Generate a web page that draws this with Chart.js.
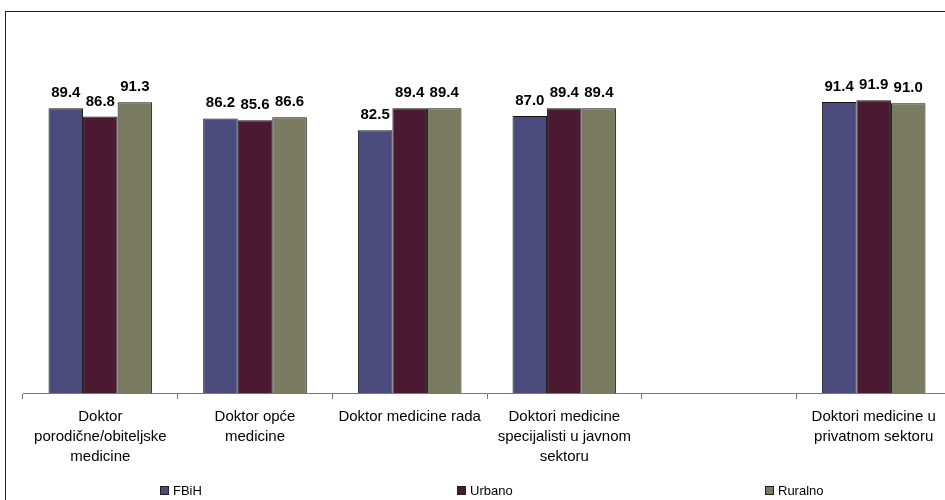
<!DOCTYPE html>
<html>
<head>
<meta charset="utf-8">
<script src="https://cdn.jsdelivr.net/npm/chart.js@4"></script>
<style>
  html, body { margin: 0; padding: 0; width: 945px; height: 500px; overflow: hidden; background: #fff; }
  #frame { position: absolute; left: 5px; top: 11px; width: 980px; height: 520px; border: 1px solid #222; box-sizing: border-box; }
  #wrap { position: absolute; left: 6px; top: 12px; width: 960px; height: 470px; }
  #legend { position: absolute; left: 0; top: 0; width: 945px; height: 500px; pointer-events: none; font-family: "Liberation Sans", Arial, sans-serif; font-size: 13px; color: #000; }
  .li { position: absolute; top: 483px; display: flex; align-items: center; white-space: nowrap; line-height: 15px; }
  .box { width: 7px; height: 7px; border: 1px solid #222; margin-right: 4px; }
</style>
</head>
<body>
<div id="frame"></div>
<div id="wrap"><canvas id="c" width="960" height="470"></canvas></div>
<div id="legend"></div>
<script>
const categories = [
  ["Doktor", "porodične/obiteljske", "medicine"],
  ["Doktor opće", "medicine"],
  "Doktor medicine rada",
  ["Doktori medicine", "specijalisti u javnom", "sektoru"],
  "",
  ["Doktori medicine u", "privatnom sektoru"]
];
const seriesNames = ["FBiH", "Urbano", "Ruralno"];
const fbih    = [89.4, 86.2, 82.5, 87.0, null, 91.4];
const urbano  = [86.8, 85.6, 89.4, 89.4, null, 91.9];
const ruralno = [91.3, 86.6, 89.4, 89.4, null, 91.0];
const seriesColors = ["#4a4a7c", "#4b1931", "#7a7b60"];
const legendLeft = [160, 457, 765];

const FONT = '"Liberation Sans", Arial, sans-serif';

const valueLabels = {
  id: 'valueLabels',
  afterDatasetsDraw(chart) {
    const ctx = chart.ctx;
    ctx.save();
    ctx.font = 'bold 15px ' + FONT;
    ctx.fillStyle = '#000';
    ctx.textAlign = 'center';
    ctx.textBaseline = 'alphabetic';
    chart.data.datasets.forEach((ds, di) => {
      const meta = chart.getDatasetMeta(di);
      meta.data.forEach((el, i) => {
        const v = ds.data[i];
        if (v === null || v === undefined) return;
        ctx.fillText(v.toFixed(1), el.x, el.y - 11);
      });
    });
    ctx.restore();
  }
};

const datasets = [fbih, urbano, ruralno].map((d, i) => ({
  label: seriesNames[i],
  data: d,
  backgroundColor: seriesColors[i],
  borderColor: '#111',
  borderWidth: 1,
  categoryPercentage: 0.67,
  barPercentage: 1.0
}));

new Chart(document.getElementById('c'), {
  type: 'bar',
  data: { labels: categories, datasets },
  options: {
    responsive: false,
    animation: false,
    layout: { padding: { left: 17, right: 15, top: 62.5, bottom: 0 } },
    plugins: { legend: { display: false }, tooltip: { enabled: false } },
    scales: {
      x: {
        afterFit(scale) { scale.height = 89; },
        grid: { drawOnChartArea: false, tickLength: 6, color: '#777', offset: true },
        border: { display: true, color: '#777', width: 1 },
        ticks: { color: '#000', font: { family: FONT, size: 15, lineHeight: 1.33 }, padding: 8, maxRotation: 0, autoSkip: false }
      },
      y: { display: false, min: 0, max: 100 }
    }
  },
  plugins: [valueLabels]
});

const lg = document.getElementById('legend');
seriesNames.forEach((name, i) => {
  const item = document.createElement('div');
  item.className = 'li';
  item.style.left = legendLeft[i] + 'px';
  const b = document.createElement('span');
  b.className = 'box';
  b.style.background = seriesColors[i];
  const t = document.createElement('span');
  t.textContent = name;
  item.appendChild(b); item.appendChild(t);
  lg.appendChild(item);
});
</script>
</body>
</html>
